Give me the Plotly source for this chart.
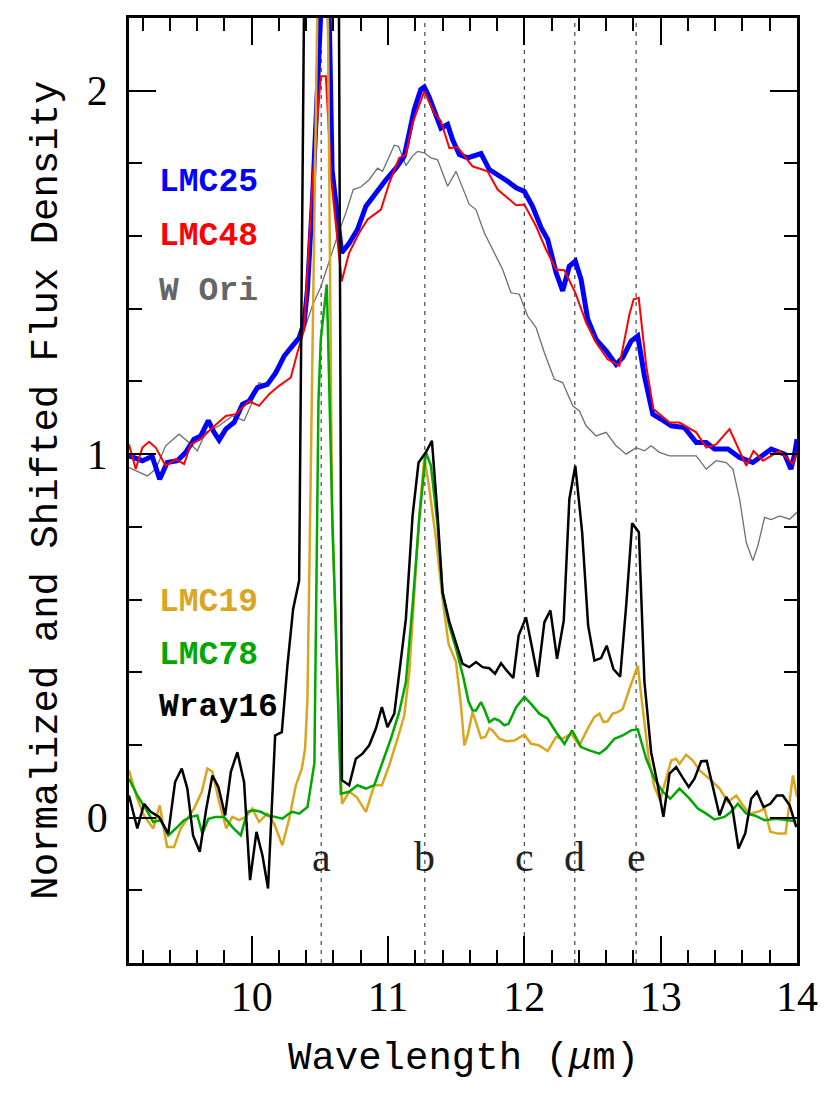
import plotly.graph_objects as go

# --- spectra (wavelength in micron, normalized flux) ---
lmc25_x = [9.10, 9.198, 9.27, 9.325, 9.38, 9.455, 9.516, 9.577, 9.626, 9.682, 9.724, 9.761, 9.81,
           9.871, 9.932, 9.981, 10.042, 10.115, 10.177, 10.238, 10.299, 10.348, 10.385, 10.409,
           10.446, 10.495, 10.55, 10.59, 10.66, 10.715, 10.776, 10.838, 10.911, 10.985, 11.058,
           11.119, 11.156, 11.192, 11.24, 11.266, 11.30, 11.339, 11.388, 11.437, 11.474, 11.523,
           11.584, 11.682, 11.743, 11.877, 11.94, 12.0, 12.06, 12.123, 12.171, 12.233, 12.281,
           12.33, 12.374, 12.416, 12.465, 12.526, 12.6, 12.673, 12.722, 12.783, 12.832, 12.881,
           12.942, 13.004, 13.077, 13.175, 13.261, 13.334, 13.395, 13.493, 13.579, 13.676,
           13.738, 13.811, 13.909, 13.955, 13.98, 14.0]
lmc25_y = [0.995, 0.982, 0.994, 0.931, 0.977, 0.982, 1.005, 1.041, 1.050, 1.092, 1.060, 1.039, 1.069,
           1.087, 1.137, 1.146, 1.183, 1.192, 1.224, 1.270, 1.298, 1.32, 1.362, 1.453,
           1.70, 2.11, 2.58, 1.78, 1.554, 1.58, 1.618, 1.682, 1.719, 1.755, 1.787,
           1.82, 1.884, 1.948, 2.003, 2.010, 1.984, 1.948, 1.897, 1.907, 1.865, 1.824,
           1.815, 1.827, 1.783, 1.751, 1.733, 1.723, 1.682, 1.623, 1.591, 1.499, 1.449,
           1.517, 1.531, 1.481, 1.371, 1.316, 1.284, 1.247, 1.266, 1.311, 1.325, 1.215,
           1.11, 1.096, 1.078, 1.073, 1.032, 1.032, 1.014, 1.014, 0.991, 0.977,
           0.995, 1.014, 1.0, 0.959, 0.995, 1.041]

lmc48_x = [9.10, 9.149, 9.198, 9.247, 9.296, 9.369, 9.443, 9.504, 9.553, 9.626, 9.712, 9.81, 9.883,
           9.981, 10.054, 10.128, 10.201, 10.287, 10.335, 10.385, 10.446, 10.507, 10.544, 10.585,
           10.66, 10.715, 10.789, 10.85, 10.948, 11.009, 11.082, 11.131, 11.18, 11.266, 11.339,
           11.388, 11.45, 11.51, 11.62, 11.73, 11.804, 11.89, 11.94, 12.0, 12.086, 12.159,
           12.233, 12.294, 12.374, 12.453, 12.526, 12.611, 12.697, 12.771, 12.802, 12.839,
           12.894, 12.947, 13.065, 13.138, 13.261, 13.334, 13.407, 13.505, 13.628, 13.681,
           13.75, 13.872, 13.97, 14.0]
lmc48_y = [1.027, 0.959, 1.018, 1.034, 1.018, 0.968, 0.986, 0.973, 1.027, 1.041, 1.073, 1.105, 1.11,
           1.146, 1.133, 1.165, 1.188, 1.211, 1.279, 1.343, 1.75, 2.04, 2.04, 1.75,
           1.476, 1.554, 1.609, 1.646, 1.673, 1.746, 1.815, 1.824, 1.911, 1.998, 1.939,
           1.916, 1.842, 1.845, 1.792, 1.778, 1.728, 1.70, 1.685, 1.687, 1.627, 1.563,
           1.508, 1.506, 1.444, 1.362, 1.307, 1.261, 1.243, 1.385, 1.426, 1.43,
           1.243, 1.124, 1.087, 1.087, 1.06, 1.018, 1.027, 1.069, 0.968, 1.009,
           0.982, 1.009, 0.973, 1.005]

wori_x = [9.10, 9.149, 9.234, 9.296, 9.369, 9.467, 9.54, 9.601, 9.663, 9.761, 9.858, 9.944, 9.993,
          10.054, 10.115, 10.177, 10.25, 10.324, 10.385, 10.446, 10.507, 10.568, 10.629, 10.691,
          10.745, 10.80, 10.862, 10.923, 10.96, 11.046, 11.077, 11.131, 11.18, 11.217, 11.266,
          11.315, 11.364, 11.437, 11.499, 11.596, 11.645, 11.706, 11.767, 11.841, 11.902,
          11.963, 12.024, 12.086, 12.147, 12.22, 12.281, 12.355, 12.404, 12.453, 12.526, 12.6,
          12.673, 12.747, 12.82, 12.881, 12.93, 12.991, 13.065, 13.261, 13.334, 13.407, 13.481,
          13.53, 13.579, 13.628, 13.676, 13.713, 13.762, 13.811, 13.872, 13.946, 14.0]
wori_y = [0.963, 0.954, 0.94, 0.959, 1.023, 1.055, 1.032, 1.009, 1.06, 1.078, 1.105, 1.092, 1.133,
          1.197, 1.188, 1.234, 1.275, 1.305, 1.34, 1.41, 1.46, 1.53, 1.60, 1.664,
          1.728, 1.735, 1.755, 1.787, 1.778, 1.85, 1.847, 1.794, 1.82, 1.833, 1.829,
          1.815, 1.81, 1.737, 1.778, 1.687, 1.673, 1.609, 1.563, 1.508, 1.444,
          1.44, 1.38, 1.348, 1.279, 1.206, 1.197, 1.133, 1.119, 1.078, 1.05, 1.06,
          1.023, 1.0, 1.018, 1.009, 1.023, 1.005, 0.995, 0.995, 0.959, 0.982, 0.977,
          0.959, 0.876, 0.757, 0.707, 0.748, 0.826, 0.82, 0.83, 0.821, 0.84]

lmc19_x = [9.10, 9.161, 9.21, 9.278, 9.325, 9.38, 9.43, 9.479, 9.528, 9.577, 9.634, 9.675, 9.712,
           9.761, 9.814, 9.858, 9.907, 9.957, 10.005, 10.054, 10.115, 10.164, 10.225, 10.275,
           10.324, 10.368, 10.392, 10.409, 10.427, 10.53, 10.59, 10.662, 10.715, 10.769, 10.838,
           10.899, 10.955, 11.009, 11.07, 11.119, 11.156, 11.192, 11.229, 11.266, 11.30, 11.352,
           11.40, 11.444, 11.499, 11.535, 11.56, 11.584, 11.62, 11.645, 11.682, 11.714, 11.743,
           11.767, 11.816, 11.865, 11.927, 12.0, 12.049, 12.105, 12.171, 12.233, 12.281, 12.343,
           12.404, 12.465, 12.514, 12.551, 12.58, 12.611, 12.648, 12.685, 12.722, 12.771, 12.832,
           12.869, 12.913, 12.954, 12.996, 13.04, 13.077, 13.114, 13.138, 13.187, 13.236, 13.285,
           13.358, 13.432, 13.493, 13.554, 13.603, 13.652, 13.713, 13.762, 13.804, 13.86, 13.916,
           13.97, 14.0]
lmc19_y = [0.13, 0.052, 0.006, -0.03, 0.034, -0.081, -0.081, -0.03, -0.003, 0.025, 0.071, 0.135, 0.126,
           0.043, -0.03, 0.002, -0.007, 0.002, 0.025, -0.012, 0.011, -0.016, -0.076, -0.003,
           0.089, 0.135, 0.19, 0.327, 0.785, 3.5, 0.82, 0.038, 0.071, 0.057, 0.016,
           0.089, 0.089, 0.144, 0.217, 0.281, 0.40, 0.602, 0.83, 0.991, 0.913, 0.766,
           0.602, 0.478, 0.428, 0.309, 0.199, 0.226, 0.29, 0.263, 0.219, 0.222, 0.245,
           0.24, 0.217, 0.21, 0.212, 0.228, 0.203, 0.199, 0.183, 0.222, 0.217, 0.231,
           0.199, 0.245, 0.277, 0.286, 0.263, 0.265, 0.286, 0.29, 0.299, 0.354, 0.418,
           0.299, 0.162, 0.084, 0.048, 0.107, 0.157, 0.162, 0.148, 0.173, 0.157, 0.13,
           0.107, 0.08, 0.043, 0.061, 0.034, 0.011, 0.016, 0.025, -0.039, -0.044, -0.044,
           0.116, 0.057]

lmc78_x = [9.10, 9.161, 9.222, 9.278, 9.333, 9.388, 9.443, 9.504, 9.553, 9.601, 9.638, 9.682, 9.736,
           9.797, 9.858, 9.92, 9.968, 10.018, 10.067, 10.115, 10.172, 10.225, 10.275, 10.299,
           10.348, 10.409, 10.46, 10.49, 10.507, 10.551, 10.592, 10.654, 10.715, 10.776, 10.838,
           10.899, 10.96, 11.021, 11.082, 11.131, 11.18, 11.229, 11.278, 11.315, 11.364, 11.40,
           11.449, 11.499, 11.55, 11.59, 11.62, 11.645, 11.682, 11.706, 11.743, 11.78, 11.816,
           11.853, 11.884, 11.94, 12.0, 12.049, 12.11, 12.171, 12.233, 12.294, 12.35, 12.416,
           12.477, 12.551, 12.6, 12.661, 12.722, 12.783, 12.832, 12.894, 12.954, 13.016, 13.07,
           13.138, 13.212, 13.273, 13.334, 13.395, 13.468, 13.517, 13.566, 13.628, 13.689,
           13.762, 13.848, 13.921, 13.995]
lmc78_y = [0.107, 0.061, 0.025, -0.012, -0.007, -0.049, -0.03, -0.007, 0.002, 0.006, -0.044, -0.003, 0.002,
           0.002, -0.026, -0.049, 0.016, 0.02, 0.016, 0.006, 0.002, -0.003, 0.011, 0.016,
           0.011, 0.029, 0.15, 1.15, 1.316, 1.467, 0.82, 0.066, 0.071, 0.089, 0.08,
           0.089, 0.153, 0.217, 0.29, 0.373, 0.583, 0.821, 1.005, 0.968, 0.803, 0.62,
           0.528, 0.464, 0.39, 0.32, 0.295, 0.295, 0.318, 0.299, 0.263, 0.272, 0.267,
           0.254, 0.258, 0.304, 0.332, 0.313, 0.286, 0.272, 0.235, 0.203, 0.24, 0.194,
           0.185, 0.176, 0.19, 0.217, 0.226, 0.24, 0.243, 0.162, 0.107, 0.071, 0.052,
           0.08, 0.052, 0.025, 0.011, -0.005, 0.002, 0.016, 0.038, 0.011, 0.006,
           -0.007, -0.003, -0.007, -0.01]

wray16_x = [9.10, 9.161, 9.21, 9.259, 9.32, 9.388, 9.438, 9.487, 9.528, 9.57, 9.619, 9.667, 9.712,
            9.756, 9.805, 9.847, 9.895, 9.944, 9.988, 10.035, 10.079, 10.12, 10.172, 10.221,
            10.262, 10.304, 10.348, 10.56, 10.662, 10.715, 10.764, 10.813, 10.862, 10.911,
            10.955, 10.996, 11.046, 11.095, 11.131, 11.18, 11.224, 11.278, 11.322, 11.364, 11.40,
            11.449, 11.499, 11.547, 11.596, 11.645, 11.694, 11.743, 11.785, 11.829, 11.87,
            11.919, 11.958, 12.012, 12.056, 12.098, 12.147, 12.191, 12.24, 12.289, 12.33,
            12.374, 12.424, 12.468, 12.514, 12.563, 12.604, 12.653, 12.703, 12.747, 12.791,
            12.84, 12.881, 12.93, 12.974, 13.02, 13.065, 13.114, 13.158, 13.206, 13.248,
            13.297, 13.338, 13.387, 13.432, 13.481, 13.525, 13.571, 13.62, 13.664, 13.706,
            13.755, 13.804, 13.852, 13.896, 13.946, 13.995]
wray16_y = [0.061, -0.030, 0.038, 0.016, 0.002, -0.044, 0.098, 0.135, 0.08, -0.049, -0.094, 0.025, 0.116,
            0.084, 0.006, 0.126, 0.18, 0.098, -0.172, -0.039, -0.104, -0.195, 0.226, 0.235,
            0.418, 0.574, 0.652, 10.0, 0.103, 0.089, 0.162, 0.176, 0.199, 0.245,
            0.304, 0.249, 0.286, 0.437, 0.547, 0.83, 0.977, 1.005, 1.037, 0.83, 0.62,
            0.54, 0.483, 0.423, 0.414, 0.428, 0.414, 0.411, 0.396, 0.425, 0.405,
            0.384, 0.501, 0.551, 0.469, 0.387, 0.538, 0.57, 0.437, 0.542, 0.876,
            0.968, 0.785, 0.528, 0.432, 0.439, 0.473, 0.409, 0.388, 0.583, 0.81,
            0.785, 0.373, 0.18, 0.098, 0.002, 0.121, 0.139, 0.112, 0.084, 0.107,
            0.155, 0.156, 0.08, 0.006, 0.057, 0.029, -0.085, -0.044, 0.052, 0.071,
            0.029, 0.038, 0.061, 0.061, 0.034, -0.026]

# feature markers
feature_names = ["a", "b", "c", "d", "e"]
feature_waves = [10.51, 11.27, 12.0, 12.37, 12.82]

MONO = "Liberation Mono"
SERIF = "Liberation Serif"

series = [
    ("W Ori", wori_x, wori_y, "#6e6e6e", 1.3),
    ("LMC25", lmc25_x, lmc25_y, "#0000ff", 5),
    ("LMC48", lmc48_x, lmc48_y, "#ff0000", 2),
    ("LMC19", lmc19_x, lmc19_y, "#daa520", 2.5),
    ("LMC78", lmc78_x, lmc78_y, "#00a800", 2.5),
    ("Wray16", wray16_x, wray16_y, "#000000", 2.5),
]

fig = go.Figure()
for name, xs, ys, color, width in series:
    fig.add_trace(go.Scatter(x=xs, y=ys, mode="lines", name=name,
                             line=dict(color=color, width=width)))

for wave in feature_waves:
    fig.add_shape(type="line", xref="x", yref="y domain", x0=wave, x1=wave, y0=0, y1=1,
                  line=dict(color="#444444", width=1.2, dash="4px,5px"), layer="below")

annotations = []
for name, wave in zip(feature_names, feature_waves):
    annotations.append(dict(x=wave, y=-0.107, xref="x", yref="y", text=name, showarrow=False,
                            font=dict(family=SERIF, size=42, color="#222222")))

# labels standing in for a legend
label_rows = [("LMC25", "#0000ff", 1.747), ("LMC48", "#ff0000", 1.599), ("W Ori", "#666666", 1.448),
              ("LMC19", "#daa520", 0.593), ("LMC78", "#00a800", 0.445), ("Wray16", "#000000", 0.302)]
for text, color, yy in label_rows:
    annotations.append(dict(x=9.308, y=yy, xref="x", yref="y", text="<b>" + text + "</b>",
                            showarrow=False, xanchor="left", yanchor="middle",
                            font=dict(family=MONO, size=33, color=color)))

annotations.append(dict(x=0.5, y=-0.102, xref="paper", yref="paper", text="Wavelength (<i>μ</i>m)",
                        showarrow=False, xanchor="center", yanchor="middle",
                        font=dict(family=MONO, size=39, color="black")))
annotations.append(dict(x=-0.124, y=0.5, xref="paper", yref="paper",
                        text="Normalized and Shifted Flux Density", textangle=-90,
                        showarrow=False, xanchor="center", yanchor="middle",
                        font=dict(family=MONO, size=39, color="black")))

axis_common = dict(showgrid=False, zeroline=False, showline=True, linecolor="black", linewidth=2.5,
                   mirror="ticks", ticks="inside", ticklen=27, tickwidth=2.2, tickcolor="black",
                   tickfont=dict(family=SERIF, size=42, color="black"))

fig.update_xaxes(range=[9.1, 14], tickvals=[10, 11, 12, 13, 14], ticklabelstandoff=-5,
                 minor=dict(dtick=0.2, tick0=10, ticks="inside", ticklen=13, tickwidth=2,
                            tickcolor="black"),
                 **axis_common)
fig.update_yaxes(range=[-0.4, 2.2], tickvals=[0, 1, 2], ticklabelstandoff=10,
                 minor=dict(dtick=0.2, tick0=0, ticks="inside", ticklen=13, tickwidth=2,
                            tickcolor="black"),
                 **axis_common)

# the page body adds an 8px offset, so margins are trimmed on the top/left
fig.update_layout(width=830, height=1094, showlegend=False, plot_bgcolor="white",
                  paper_bgcolor="white", margin=dict(l=121, r=41, t=10, b=139, autoexpand=False),
                  annotations=annotations)

fig.write_html("out.html")
